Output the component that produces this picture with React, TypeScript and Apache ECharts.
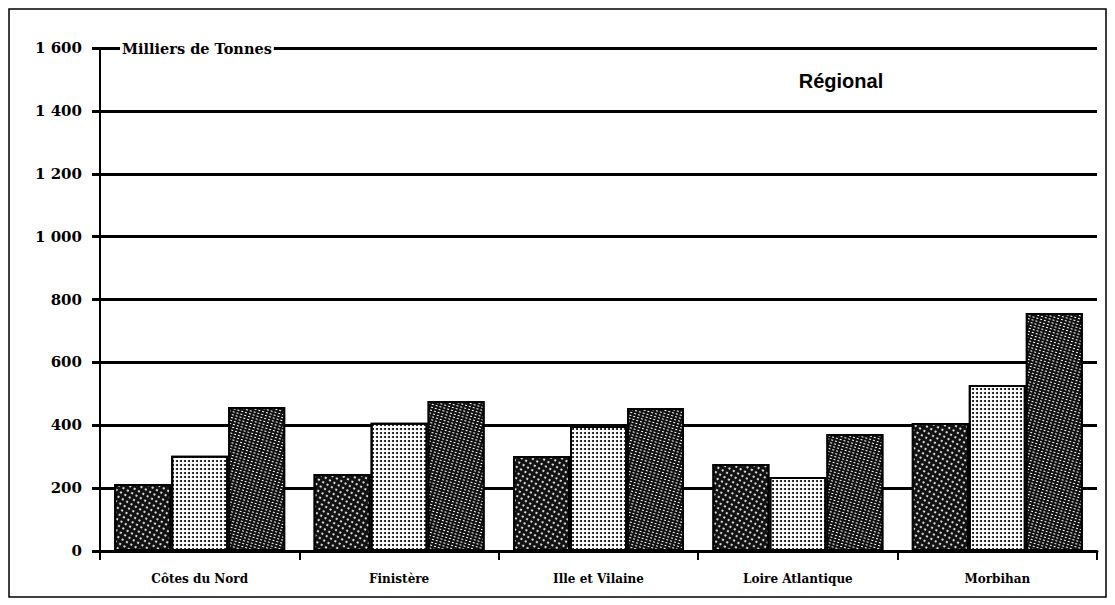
import React, { useEffect, useRef } from "react";
import * as echarts from "echarts";

const categories = ["Côtes du Nord", "Finistère", "Ille et Vilaine", "Loire Atlantique", "Morbihan"];
const seriesA = [213, 245, 302, 277, 407];
const seriesB = [303, 408, 398, 235, 528];
const seriesC = [458, 477, 455, 372, 757];
const yTicks = [0, 200, 400, 600, 800, 1000, 1200, 1400, 1600];
const unitLabel = "Milliers de Tonnes";
const titleText = "Régional";

const fmt = (v: number) => {
  const s = String(v);
  return s.length > 3 ? s.slice(0, s.length - 3) + " " + s.slice(s.length - 3) : s;
};

export default function App() {
  const ref = useRef<HTMLDivElement>(null);
  useEffect(() => {
    document.body.style.margin = "0";
    const chart = echarts.init(ref.current!, null, { renderer: "svg" });
    const serif = "DejaVu Serif";
    const bar = (name: string, data: number[], color: string, decal: any) => ({
      name,
      type: "bar",
      data,
      barWidth: 57,
      barGap: "0%",
      itemStyle: { color, borderColor: "#000", borderWidth: 2, decal },
    });
    chart.setOption({
      animation: false,
      backgroundColor: "#fff",
      aria: { enabled: true, decal: { show: true } },
      grid: { left: 100, right: 18, top: 48, bottom: 54 },
      xAxis: {
        type: "category",
        data: categories,
        axisLine: { lineStyle: { color: "#000", width: 3 } },
        axisTick: { show: true, length: 9, lineStyle: { color: "#000", width: 2 } },
        axisLabel: {
          margin: 22,
          color: "#000",
          fontFamily: serif,
          fontWeight: "bold",
          fontSize: 12,
        },
      },
      yAxis: {
        type: "value",
        min: 0,
        max: yTicks[yTicks.length - 1],
        interval: 200,
        axisLine: { show: true, lineStyle: { color: "#000", width: 2 } },
        axisTick: { show: true, length: 8, lineStyle: { color: "#000", width: 3 } },
        splitLine: { show: true, lineStyle: { color: "#000", width: 3 } },
        axisLabel: {
          margin: 18,
          color: "#000",
          fontFamily: serif,
          fontWeight: "bold",
          fontSize: 15,
          formatter: (v: number) => fmt(v),
        },
      },
      series: [
        bar("A", seriesA, "#111", {
          symbol: "circle",
          symbolSize: 1,
          color: "#fff",
          dashArrayX: [2, 3],
          dashArrayY: [2, 3],
        }),
        bar("B", seriesB, "#fff", {
          symbol: "circle",
          symbolSize: 1,
          color: "#000",
          dashArrayX: [2, 1.5],
          dashArrayY: [2, 1.5],
        }),
        bar("C", seriesC, "#111", {
          symbol: "rect",
          symbolSize: 1,
          color: "#fff",
          dashArrayX: [2, 2],
          dashArrayY: [1, 2],
          rotation: 0.3,
        }),
      ],
      graphic: [
        {
          type: "rect",
          shape: { x: 9, y: 9, width: 1097, height: 588 },
          style: { fill: "none", stroke: "#000", lineWidth: 1.5 },
          silent: true,
          z: 100,
        },
        {
          type: "text",
          x: 120,
          y: 48,
          style: {
            text: unitLabel,
            fontFamily: serif,
            fontWeight: "bold",
            fontSize: 14.5,
            fill: "#000",
            verticalAlign: "middle",
            backgroundColor: "#fff",
            padding: [1, 2],
          },
          z: 100,
        },
        {
          type: "text",
          x: 841,
          y: 81,
          style: {
            text: titleText,
            fontFamily: "Liberation Sans",
            fontWeight: "bold",
            fontSize: 20,
            fill: "#000",
            align: "center",
            verticalAlign: "middle",
          },
          z: 100,
        },
      ],
    });
    return () => chart.dispose();
  }, []);
  return <div ref={ref} style={{ width: 1115, height: 605 }} />;
}
